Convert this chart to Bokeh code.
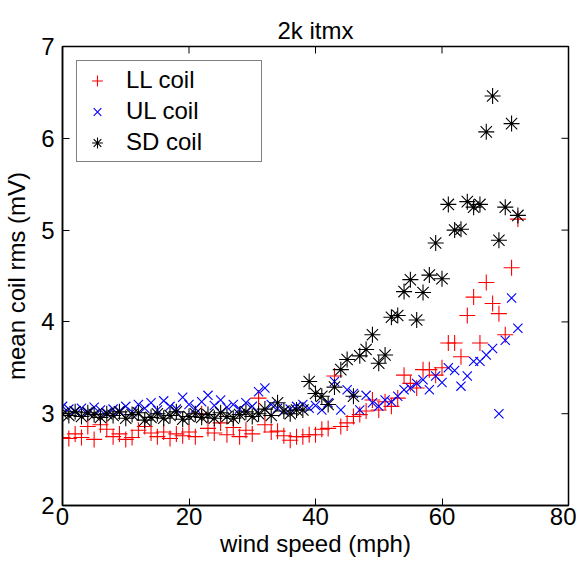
from bokeh.plotting import figure
from bokeh.models import FixedTicker, Range1d, Legend, LegendItem
from bokeh.embed import file_html
from bokeh.resources import INLINE
import math

wind_speed = list(range(0, 73))

ll_coil = [2.74, 2.73, 2.78, 2.74, 2.86, 2.72, 2.88, 2.83, 2.75, 2.78,
           2.72, 2.74, 2.82, 2.86, 2.79, 2.75, 2.80, 2.73, 2.78, 2.76,
           2.80, 2.75, 3.00, 2.84, 2.79, 2.90, 2.77, 2.85, 2.75, 2.82,
           2.78, 3.17, 2.88, 2.80, 2.81, 2.76, 2.71, 2.75, 2.75, 2.77,
           2.77, 2.83, 2.84, 3.41, 2.86, 2.90, 2.97, 2.99, 3.03, 3.15,
           3.04, 3.13, 3.08, 3.17, 3.42, 3.33, 3.28, 3.48, 3.48, 3.42,
           3.50, 3.77, 3.77, 3.62, 4.07, 4.27, 3.77, 4.43, 4.20, 4.09,
           3.86, 4.59, 5.12]

ul_coil = [3.08, 3.05, 3.03, 3.06, 3.02, 3.07, 3.04, 3.01, 3.05, 3.03,
           3.08, 3.02, 3.10, 3.06, 3.12, 3.04, 3.14, 3.08, 3.05, 3.18,
           3.10, 3.06, 3.13, 3.20, 3.09, 3.15, 3.07, 3.10, 3.05, 3.12,
           3.08, 3.24, 3.28, 3.10, 3.06, 3.03, 3.05, 3.08, 3.10, 3.06,
           3.09, 3.04, 3.12, 3.35, 3.04, 3.26, 3.22, 3.04, 3.20, 3.12,
           3.08, 3.15, 3.13, 3.19, 3.26, 3.28, 3.33, 3.37, 3.26, 3.41,
           3.34, 3.50, 3.47, 3.30, 3.41, 3.57, 3.57, 3.64, 3.71, 3.00,
           3.80, 4.26, 3.93]

sd_coil = [3.00, 2.98, 3.02, 2.97, 3.01, 2.99, 2.96, 3.00, 2.98, 3.02,
           2.95, 2.99, 3.01, 2.93, 2.96, 3.00, 2.95, 2.98, 3.02, 2.94,
           2.97, 3.00, 2.96, 2.99, 2.95, 3.01, 2.97, 2.95, 2.99, 3.02,
           2.97, 3.00, 3.05, 2.98, 3.12, 3.03, 3.00, 3.04, 3.04, 3.35,
           3.22, 3.19, 3.10, 3.29, 3.48, 3.59, 3.19, 3.63, 3.70, 3.86,
           3.55, 3.64, 4.05, 4.07, 4.33, 4.46, 4.02, 4.32, 4.51, 4.86,
           4.47, 5.28, 5.00, 5.01, 5.31, 5.25, 5.28, 6.07, 6.46, 4.89,
           5.25, 6.16, 5.16]

x_ticks = [0, 20, 40, 60, 80]
y_ticks = [2, 3, 4, 5, 6, 7]

FONT = "Liberation Sans"
FS = "24px"

x_rng = Range1d(0, 80)
y_rng = Range1d(2, 7)

p = figure(width=576, height=565, output_backend="svg", toolbar_location=None,
           x_range=x_rng, y_range=y_rng,
           min_border_left=59, min_border_right=8, min_border_top=46, min_border_bottom=60)

p.title.text = "2k itmx"
p.title.align = "center"
p.title.vertical_align = "top"
p.title.text_font = FONT
p.title.text_font_size = FS
p.title.text_font_style = "normal"
p.title.text_color = "black"
p.title.standoff = 2

p.xgrid.visible = False
p.ygrid.visible = False
p.outline_line_color = "black"
p.outline_line_width = 1.5

for ax in (p.xaxis[0], p.yaxis[0]):
    ax.major_tick_in = 7
    ax.major_tick_out = 0
    ax.minor_tick_in = 0
    ax.minor_tick_out = 0
    ax.axis_line_color = "black"
    ax.axis_line_width = 1.5
    ax.major_tick_line_color = "black"
    ax.major_label_text_font = FONT
    ax.major_label_text_font_size = FS
    ax.major_label_text_color = "black"
    ax.axis_label_text_font = FONT
    ax.axis_label_text_font_size = FS
    ax.axis_label_text_font_style = "normal"
    ax.axis_label_text_color = "black"

p.xaxis[0].ticker = FixedTicker(ticks=x_ticks)
p.yaxis[0].ticker = FixedTicker(ticks=y_ticks)
p.xaxis[0].axis_label = "wind speed (mph)"
p.yaxis[0].axis_label = "mean coil rms (mV)"
p.xaxis[0].major_label_standoff = 2
p.yaxis[0].major_label_standoff = 8
p.xaxis[0].axis_label_standoff = 2
p.yaxis[0].axis_label_standoff = 8

# inward ticks on the top and right edges (box on); half of each dash is clipped by the frame
p.scatter([x_rng.end] * len(y_ticks), y_ticks, marker="dash", size=14,
          line_color="black", line_width=1.0)
p.scatter(x_ticks, [y_rng.end] * len(x_ticks), marker="dash", angle=math.pi / 2, size=14,
          line_color="black", line_width=1.0)

r_ll = p.scatter(wind_speed, ll_coil, marker="cross", size=16, line_color="red", line_width=1.1)
r_ul = p.scatter(wind_speed, ul_coil, marker="x", size=13, line_color="blue", line_width=1.1)
r_sd = p.scatter(wind_speed, sd_coil, marker="asterisk", size=16, line_color="black", line_width=1.1)

legend = Legend(items=[LegendItem(label="LL coil", renderers=[r_ll]),
                       LegendItem(label="UL coil", renderers=[r_ul]),
                       LegendItem(label="SD coil", renderers=[r_sd])],
                location="top_left")
legend.label_text_font = FONT
legend.label_text_font_size = FS
legend.label_text_color = "black"
legend.border_line_color = "black"
legend.border_line_width = 1.5
legend.margin = 14
legend.padding = 5
legend.spacing = 3
legend.glyph_width = 30
legend.glyph_height = 27
legend.label_height = 27
legend.label_width = 130
legend.label_standoff = 14
p.add_layout(legend)

open("out.html", "w").write(file_html(p, INLINE))
